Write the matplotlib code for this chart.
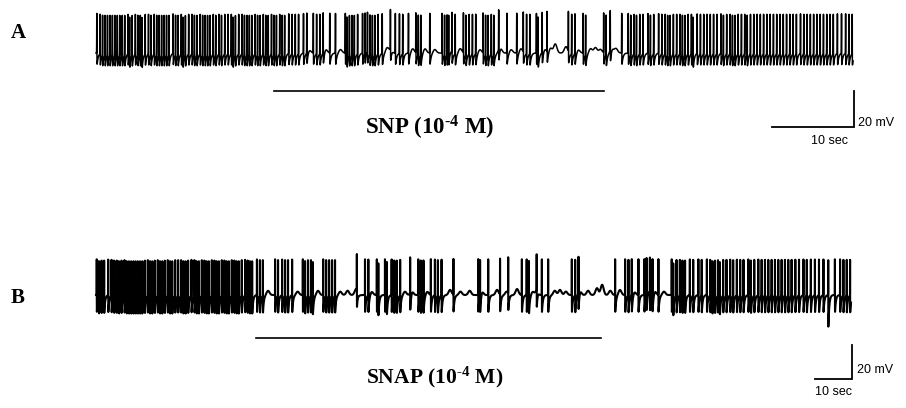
import numpy as np
import matplotlib
matplotlib.use("Agg")
import matplotlib.pyplot as plt
import matplotlib.transforms as mtransforms

plt.rcParams['path.simplify'] = False
plt.rcParams['mathtext.fontset'] = 'custom'
plt.rcParams['mathtext.rm'] = 'Liberation Serif:bold'
plt.rcParams['mathtext.it'] = 'Liberation Serif:bold'
plt.rcParams['mathtext.bf'] = 'Liberation Serif:bold'

# ---------------- data (times in s, voltages in mV) ----------------
# Trace A : SNP
a_duration = 92.3
a_rest = -55.0
a_spikes = [
    0.1, 0.5, 0.8, 1.1, 1.4, 1.7, 2.0, 2.3, 2.6, 2.9, 3.2, 3.5, 3.9, 4.1, 4.4, 4.8,
    5.1, 5.4, 5.6, 6.0, 6.4, 6.7, 7.1, 7.4, 7.7, 8.0, 8.3, 8.6, 8.9, 9.4, 9.7, 10.0,
    10.4, 10.6, 10.9, 11.3, 11.7, 12.0, 12.3, 12.7, 13.0, 13.3, 13.6, 13.9, 14.3,
    14.6, 15.0, 15.3, 15.7, 16.1, 16.5, 16.7, 17.0, 17.4, 17.8, 18.1, 18.4, 18.7,
    19.0, 19.4, 19.7, 20.0, 20.4, 20.7, 21.0, 21.4, 21.7, 22.0, 22.4, 22.7, 23.0,
    23.5, 23.9, 24.3, 24.7, 25.3, 25.7, 26.5, 26.9, 27.3, 27.7, 28.5, 29.2, 30.4,
    30.6, 30.9, 31.2, 31.5, 31.9, 32.5, 32.8, 33.1, 33.4, 33.7, 34.0, 34.4, 34.9,
    35.9, 36.5, 37.0, 37.4, 38.1, 39.0, 39.3, 39.6, 40.7, 42.2, 42.5, 42.8, 43.0,
    43.4, 43.8, 44.8, 45.1, 45.5, 45.9, 46.3, 47.2, 47.5, 47.8, 48.2, 48.5, 49.1,
    50.1, 51.3, 52.1, 52.5, 52.9, 53.7, 53.9, 54.4, 55.0, 57.6, 58.0, 58.4, 59.4,
    59.7, 61.9, 62.2, 62.7, 64.1, 64.9, 65.2, 65.6, 65.9, 66.3, 66.7, 67.3, 67.6,
    68.0, 68.6, 69.0, 69.4, 69.7, 70.0, 70.4, 70.8, 71.2, 71.5, 71.8, 72.2, 72.6,
    72.8, 73.3, 73.7, 74.1, 74.5, 74.9, 75.3, 75.7, 76.2, 76.5, 76.9, 77.3, 77.6,
    77.9, 78.3, 78.7, 79.1, 79.4, 79.8, 80.2, 80.6, 81.0, 81.4, 81.8, 82.2, 82.6,
    83.0, 83.4, 83.8, 84.2, 84.6, 85.0, 85.4, 85.9, 86.3, 86.7, 87.1, 87.5, 87.9,
    88.3, 88.7, 89.1, 89.5, 89.9, 90.4, 90.9, 91.4, 91.8, 92.2,
]
a_bumps = [26.0, 28.0, 29.8, 33.0, 35.5, 36.0, 38.6, 40.1, 41.3, 43.2, 44.4,
           46.8, 49.3, 50.6, 51.8, 54.7, 55.4, 56.0, 57.3, 58.8, 60.3, 60.9,
           61.5, 62.9, 63.4]
a_bump_amps = [2.0, 2.5, 2.0, 2.0, 3.0, 2.0, 2.5, 2.5, 2.0, 2.0, 2.5,
               2.0, 3.5, 2.0, 2.5, 2.5, 3.0, 5.0, 3.5, 2.0, 2.5, 3.0,
               2.0, 3.0, 2.5]
a_drug = (21.7, 62.0)

# Trace B : SNAP
b_duration = 204.05
b_rest = -55.0
b_spikes = [
    0.2, 0.8, 1.5, 2.2, 3.3, 4.2, 4.9, 5.6, 6.2, 6.9, 7.7, 8.3, 8.9, 9.5, 10.1,
    10.7, 11.3, 11.9, 12.5, 13.2, 14.0, 14.6, 15.2, 15.9, 16.7, 17.3, 17.9, 18.6,
    19.4, 20.0, 20.6, 21.4, 22.2, 23.0, 23.6, 24.2, 24.9, 25.8, 26.6, 27.2, 27.8,
    28.6, 29.3, 29.9, 30.5, 31.3, 32.0, 32.6, 33.2, 34.0, 34.7, 35.3, 35.9, 36.7,
    37.4, 38.0, 38.6, 39.4, 40.3, 41.0, 41.6, 42.2, 43.5, 44.3, 45.1, 48.4, 49.2,
    50.3, 51.1, 51.9, 53.0, 55.9, 56.5, 57.3, 58.1, 58.6, 61.4, 62.2, 63.0, 63.8,
    64.6, 70.5, 72.7, 73.6, 75.9, 76.3, 78.1, 78.6, 79.9, 80.6, 81.3, 82.2, 84.9,
    87.1, 87.8, 88.5, 90.5, 91.6, 92.4, 93.4, 96.6, 103.3, 103.8, 106.0, 109.2,
    111.4, 115.1, 116.4, 117.0, 119.1, 120.5, 122.2, 128.6, 129.5, 130.4, 140.3,
    143.0, 143.9, 144.8, 146.6, 148.2, 148.8, 149.7, 150.4, 152.0, 155.6, 156.0,
    156.9, 157.8, 158.5, 159.2, 160.5, 161.4, 162.8, 163.7, 165.1, 166.0, 166.6,
    167.3, 168.1, 168.6, 169.5, 170.4, 171.4, 172.2, 173.2, 174.1, 175.0, 176.3,
    177.0, 177.9, 179.0, 179.9, 180.8, 181.7, 182.6, 183.5, 184.4, 185.3, 186.2,
    187.1, 188.0, 189.0, 190.0, 191.2, 192.1, 193.2, 194.3, 195.4, 196.6, 197.9,
    199.7, 201.1, 202.0, 202.9, 203.8,
]
b_bumps = [46.5, 54.5, 60.0, 66.0, 68.0, 70.3, 74.5, 83.5, 85.4, 89.5, 95.7,
           98.5, 101.0, 104.3, 108.4, 111.0, 113.8, 118.0, 119.2, 124.0, 125.4,
           127.0, 130.8, 133.0, 135.4, 136.8, 139.0, 141.6, 145.5, 149.2, 151.0,
           153.5]
b_bump_amps = [2.5, 2.0, 2.5, 2.0, 2.5, 3.5, 2.0, 2.0, 2.5, 2.0, 3.0,
               2.0, 2.5, 2.5, 3.0, 2.0, 3.5, 2.0, 3.0, 2.5, 3.0,
               2.0, 3.0, 2.5, 4.0, 6.0, 2.5, 3.0, 2.0, 3.0, 2.5,
               2.0]
b_deep_dip = [(197.9, 10.0)]
b_drug = (43.2, 136.5)

label_a = 'SNP (10$^{\u20104}$ M)'
label_b = 'SNAP (10$^{\u20104}$ M)'
scale_time = 10.0   # s
scale_volt = 20.0   # mV


def make_trace(duration, rest, spikes, amp, ahp, tau, bumps, bump_amps, bump_w,
               dips=(), fs=400.0):
    t = np.arange(0.0, duration, 1.0 / fs)
    v = np.full(t.shape, rest)
    for s in spikes:
        i0 = np.searchsorted(t, s - 0.06)
        i1 = np.searchsorted(t, s + 8 * tau)
        dt = t[i0:i1] - s
        seg = amp * np.exp(-0.5 * (dt / 0.012) ** 2)
        post = dt > 0.015
        seg[post] -= ahp * np.exp(-(dt[post] - 0.015) / tau)
        v[i0:i1] += seg
    for b, a in zip(bumps, bump_amps):
        v += a * np.exp(-0.5 * ((t - b) / bump_w) ** 2)
    for s, d in dips:
        i0 = np.searchsorted(t, s)
        i1 = np.searchsorted(t, s + 1.5)
        dt = t[i0:i1] - s
        v[i0:i1] -= d * np.exp(-dt / 0.25)
    return t, v


ta, va = make_trace(a_duration, a_rest, a_spikes, 22.0, 7.5, 0.14,
                    a_bumps, a_bump_amps, 0.2)
tb, vb = make_trace(b_duration, b_rest, b_spikes, 21.0, 11.0, 0.25,
                    b_bumps, b_bump_amps, 0.4, dips=b_deep_dip)

W, H = 906, 408
fig = plt.figure(figsize=(W / 100, H / 100), dpi=100)
fig.patch.set_facecolor('white')

# axes A: px x 96-853, y 0-150
axA = fig.add_axes([96 / W, 1 - 150 / H, 757 / W, 150 / H])
axA.set_xlim(0, a_duration)
axA.set_ylim(-55 - 97 / 1.8, -55 + 53 / 1.8)
# axes B: px x 96-851, y 240-408
axB = fig.add_axes([96 / W, 0, 755 / W, 168 / H])
axB.set_xlim(0, b_duration)
axB.set_ylim(-55 - 113 / 1.7, -55 + 55 / 1.7)

for ax in (axA, axB):
    ax.axis('off')

axA.plot(ta, va, color='black', lw=1.1, clip_on=False)
axB.plot(tb, vb, color='black', lw=1.5, clip_on=False)

serif = ['Liberation Serif', 'DejaVu Serif']
sans = ['Liberation Sans', 'DejaVu Sans']

# drug application bars and labels
trA = mtransforms.blended_transform_factory(axA.transData, axA.transAxes)
axA.plot(a_drug, [1 - 91 / 150] * 2, transform=trA, color='black', lw=1.2,
         clip_on=False)
axA.text(40.7, 1 - 128 / 150, label_a, transform=trA, ha='center', va='center',
         fontsize=16.5, fontweight='bold', family=serif)

trB = mtransforms.blended_transform_factory(axB.transData, axB.transAxes)
axB.plot(b_drug, [(408 - 338) / 168] * 2, transform=trB, color='black', lw=1.2,
         clip_on=False)
axB.text(91.6, (408 - 377) / 168, label_b, transform=trB, ha='center',
         va='center', fontsize=15.5, fontweight='bold', family=serif)

# scale bars
xa0, ya0 = 92.4, -96.1
axA.plot([xa0 - scale_time, xa0, xa0], [ya0, ya0, ya0 + scale_volt],
         color='black', lw=1.3, clip_on=False, solid_joinstyle='miter')
axA.text(92.9, -93.9, '20 mV', ha='left', va='center', fontsize=9, family=sans)
axA.text(89.4, -103.9, '10 sec', ha='center', va='center', fontsize=9, family=sans)

xb0, yb0 = 204.3, -104.4
axB.plot([xb0 - scale_time, xb0, xb0], [yb0, yb0, yb0 + scale_volt],
         color='black', lw=1.3, clip_on=False, solid_joinstyle='miter')
axB.text(205.7, -99.1, '20 mV', ha='left', va='center', fontsize=9, family=sans)
axB.text(199.2, -112.1, '10 sec', ha='center', va='center', fontsize=9, family=sans)

# panel letters
fig.text(18 / W, 1 - 33 / H, 'A', ha='center', va='center', fontsize=15,
         fontweight='bold', family=serif)
fig.text(18 / W, 1 - 298 / H, 'B', ha='center', va='center', fontsize=15,
         fontweight='bold', family=serif)

fig.savefig('out.png', dpi=100, facecolor='white')
